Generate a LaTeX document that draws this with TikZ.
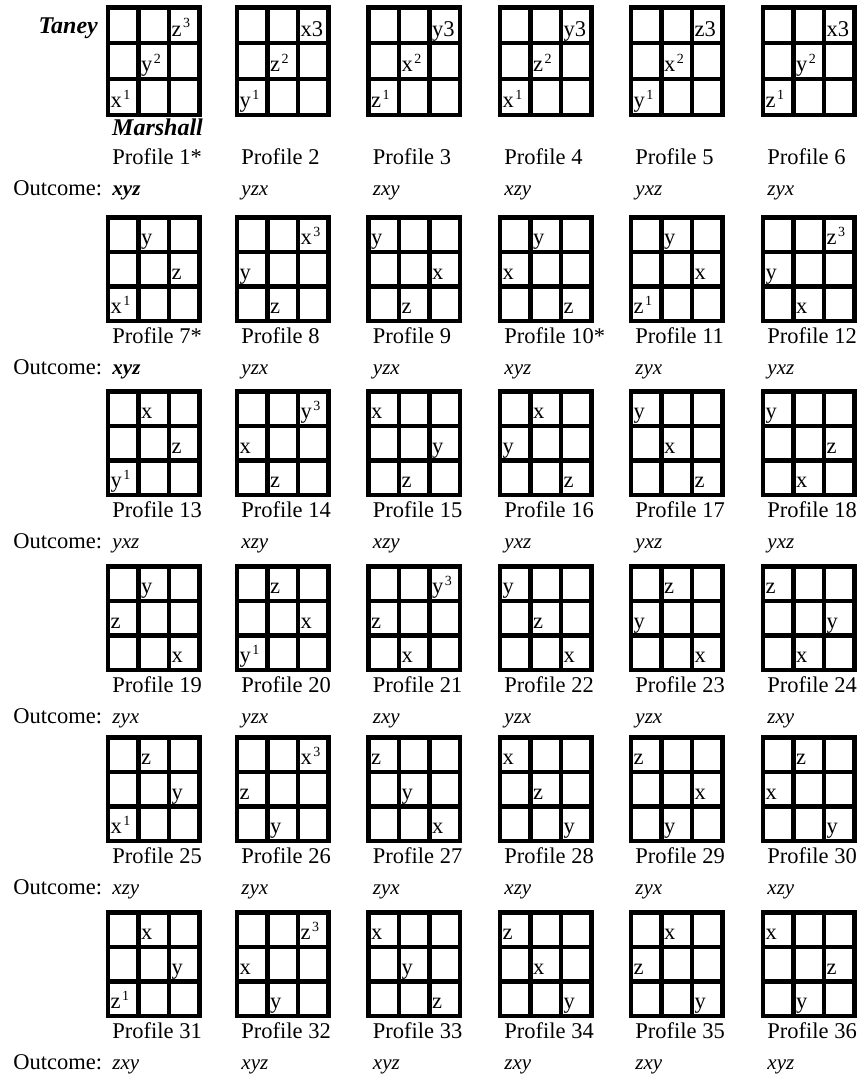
\documentclass[tikz,border=0pt]{standalone}
\usepackage{fontspec}
\setmainfont{Liberation Serif}
\usetikzlibrary{positioning}

\newcommand{\exposant}[1]{\hspace{1.5pt}\raisebox{8.5pt}{\fontsize{14}{14}\selectfont #1}}

\begin{document}
\begin{tikzpicture}[x=1pt,y=-1pt,
    cadre/.style={draw, line width=4.5pt, line join=miter},
    case/.style={font=\fontsize{22.5}{26}\selectfont, inner sep=0pt, anchor=base west},
    etiquette/.style={font=\fontsize{22.5}{27}\selectfont, inner sep=0pt},
    resultat/.style={font=\fontsize{21}{25}\selectfont\itshape, inner sep=0pt},
    juge/.style={font=\fontsize{24}{28}\selectfont\bfseries\itshape, inner sep=0pt}]
    \fill[white] (0,0) rectangle (859,1076);
    \useasboundingbox (0,0) rectangle (859,1076);

    % Les 36 profils : numéro / cases (colonne/ligne/texte) / résultat
    \foreach \num/\contenu/\res [count=\i from 0] in {
        1*/{3/1/z\exposant{3},2/2/y\exposant{2},1/3/x\exposant{1}}/\textbf{xyz},
        2/{3/1/x3,2/2/z\exposant{2},1/3/y\exposant{1}}/yzx,
        3/{3/1/y3,2/2/x\exposant{2},1/3/z\exposant{1}}/zxy,
        4/{3/1/y3,2/2/z\exposant{2},1/3/x\exposant{1}}/xzy,
        5/{3/1/z3,2/2/x\exposant{2},1/3/y\exposant{1}}/yxz,
        6/{3/1/x3,2/2/y\exposant{2},1/3/z\exposant{1}}/zyx,
        7*/{2/1/y,3/2/z,1/3/x\exposant{1}}/\textbf{xyz},
        8/{3/1/x\exposant{3},1/2/y,2/3/z}/yzx,
        9/{1/1/y,3/2/x,2/3/z}/yzx,
        10*/{2/1/y,1/2/x,3/3/z}/xyz,
        11/{2/1/y,3/2/x,1/3/z\exposant{1}}/zyx,
        12/{3/1/z\exposant{3},1/2/y,2/3/x}/yxz,
        13/{2/1/x,3/2/z,1/3/y\exposant{1}}/yxz,
        14/{3/1/y\exposant{3},1/2/x,2/3/z}/xzy,
        15/{1/1/x,3/2/y,2/3/z}/xzy,
        16/{2/1/x,1/2/y,3/3/z}/yxz,
        17/{1/1/y,2/2/x,3/3/z}/yxz,
        18/{1/1/y,3/2/z,2/3/x}/yxz,
        19/{2/1/y,1/2/z,3/3/x}/zyx,
        20/{2/1/z,3/2/x,1/3/y\exposant{1}}/yzx,
        21/{3/1/y\exposant{3},1/2/z,2/3/x}/zxy,
        22/{1/1/y,2/2/z,3/3/x}/yzx,
        23/{2/1/z,1/2/y,3/3/x}/yzx,
        24/{1/1/z,3/2/y,2/3/x}/zxy,
        25/{2/1/z,3/2/y,1/3/x\exposant{1}}/xzy,
        26/{3/1/x\exposant{3},1/2/z,2/3/y}/zyx,
        27/{1/1/z,2/2/y,3/3/x}/zyx,
        28/{1/1/x,2/2/z,3/3/y}/xzy,
        29/{1/1/z,3/2/x,2/3/y}/zyx,
        30/{2/1/z,1/2/x,3/3/y}/xzy,
        31/{2/1/x,3/2/y,1/3/z\exposant{1}}/zxy,
        32/{3/1/z\exposant{3},1/2/x,2/3/y}/xyz,
        33/{1/1/x,2/2/y,3/3/z}/xyz,
        34/{1/1/z,2/2/x,3/3/y}/zxy,
        35/{2/1/x,1/2/z,3/3/y}/zxy,
        36/{1/1/x,3/2/z,2/3/y}/xyz}{
        \pgfmathsetmacro{\gx}{{105.5,234.5,366,497.5,628.5,760.5}[mod(\i,6)]+2.25}
        \pgfmathsetmacro{\gy}{{5,215,389,564,735,910}[int(\i/6)]+2.25}
        \pgfmathsetmacro{\hh}{\i<6 ? 107.5 : 103.5}
        \pgfmathsetmacro{\ecart}{\i<6 ? 49.25 : 22.25}
        \pgfmathtruncatemacro{\col}{mod(\i,6)}

        % grille 3x3
        \node[cadre, minimum width=91.5pt, minimum height=\hh pt, inner sep=0pt, outer sep=0pt, anchor=north west] (g\i) at (\gx,\gy) {};
        \foreach \k in {1,2} {
            \draw[cadre] (g\i.north west) ++(\k*30.5,0) -- ++(0,\hh);
            \draw[cadre] (g\i.north west) ++(0,\k*\hh/3) -- ++(91.5,0);
        }
        \foreach \cx/\cy/\txt in \contenu {
            \pgfmathsetmacro{\tx}{(\cx-1)*30.5+2.75}
            \pgfmathsetmacro{\ty}{\cy*\hh/3-7}
            \node[case] (t\i-\cx\cy) at ([shift={(\tx,\ty)}]g\i.north west) {\txt};
        }

        % légendes
        \node[etiquette, below right=\ecart pt and 4.5pt of g\i.south west, anchor=base west] (p\i) {Profile \num};
        \node[resultat, below=31pt of p\i.base west, anchor=base west] (o\i) {\res};
        \ifnum\col=0
            \node[etiquette, left=10pt of o\i.base west, anchor=base east] (l\i) {Outcome:};
        \fi
    }

    % les deux juges
    \node[juge, below left=25.75pt and 9.75pt of g0.north west, anchor=base east] (taney) {Taney};
    \node[juge, below right=20.5pt and 4.25pt of g0.south west, anchor=base west] (marshall) {Marshall};
\end{tikzpicture}
\end{document}
